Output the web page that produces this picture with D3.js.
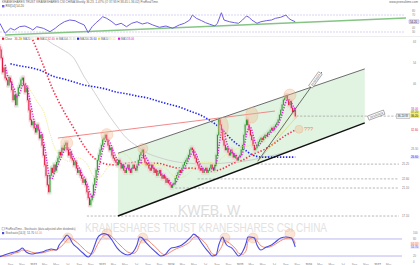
<!DOCTYPE html>
<html>
<head>
<meta charset="utf-8">
<script src="https://cdn.jsdelivr.net/npm/d3@7"></script>
<style>
  body { margin: 0; background: #fff; }
  svg { display: block; font-family: Arial, "Liberation Sans", sans-serif; }
</style>
</head>
<body>
<svg id="chart" width="420" height="265"></svg>
<script>
// ---- data (weekly, first week = 2021-07-09) ----
const firstWeek = new Date(2021, 6, 9);
const firstOpen = 61.0;
const closes = [59.5,56.0,50.4,52.0,48.2,47.5,45.7,48.2,46.8,44.1,
  40.9,42.4,39.4,42.4,44.8,45.7,47.5,48.2,45.7,43.4,
  44.8,40.9,37.9,35.2,33.9,34.7,33.1,32.1,33.9,32.6,
  30.7,31.4,29.1,27.0,25.1,23.2,21.6,20.5,23.2,24.5,
  23.7,25.1,24.1,25.6,26.4,27.6,27.0,28.5,28.1,29.1,
  29.6,28.1,27.0,27.6,26.4,26.0,25.1,25.6,24.5,23.7,
  24.1,23.2,22.7,22.0,22.4,21.6,20.5,19.6,18.6,19.3,
  20.0,21.6,22.7,24.1,26.0,27.0,28.1,29.1,30.3,30.7,
  31.4,30.3,29.1,28.1,28.5,27.0,26.4,26.0,25.6,25.1,
  26.0,25.4,24.5,25.1,24.1,23.7,24.5,25.1,24.1,23.7,
  24.5,25.1,24.5,24.1,25.1,26.0,27.0,27.6,28.1,26.4,
  25.6,25.1,25.4,24.5,24.1,25.1,24.5,23.7,24.1,23.2,
  23.6,24.1,23.2,22.7,23.2,22.7,22.0,22.4,21.9,21.6,
  21.2,21.6,21.9,22.7,23.2,23.7,24.1,23.7,24.5,25.1,
  25.6,26.0,26.4,27.0,28.1,28.5,28.1,27.0,26.4,25.6,
  25.1,24.5,24.1,24.5,23.7,24.1,24.5,23.7,24.1,24.5,
  25.1,24.5,24.1,25.1,27.0,31.4,35.2,33.9,32.6,30.3,
  29.1,28.1,28.5,27.6,27.0,28.1,27.4,26.6,27.0,26.4,
  26.0,26.6,27.0,28.1,29.1,31.4,33.9,35.2,33.9,32.6,
  31.4,30.3,29.1,28.1,28.5,29.1,29.8,30.3,30.7,30.3,
  31.0,31.4,31.2,31.9,32.1,32.6,33.1,32.6,33.4,33.9,
  34.4,35.2,36.5,37.9,39.4,40.9,41.5,42.1,40.9,39.4,
  40.3,38.5,37.4,37.9,36.2];

// long moving averages, every 8 weeks
const maWeeks = [0,8,16,24,32,40,48,56,64,72,80,88,96,104,112,120,128,136,144,152,160,168,176,184,192,200,208,216,224];
const ma52 = [null,null,null,65.6,54.3,44.4,37.9,33.1,28.9,26.3,25.3,25.1,25.4,25.6,25.4,25.4,24.9,24.5,24.5,24.3,23.9,24.3,25.3,26.0,27.2,28.1,29.5,31.2,32.6];
const ma104 = [null,null,null,null,66.0,62.3,59.5,56.0,48.6,43.1,37.9,33.9,30.7,28.9,27.4,26.6,26.0,25.6,25.4,25.3,25.3,25.4,25.6,25.8,26.1,26.6,27.0,27.6,28.3];
const ma200 = [null,53.6,52.7,52.0,50.8,48.9,47.9,46.8,45.7,45.1,44.4,43.4,42.8,42.1,41.5,40.5,39.6,38.8,37.6,36.5,34.9,32.9,30.3,28.5,27.0,26.6,26.6,26.6,26.6];

// RSI panel
const rsiWeeks = [0,4,8,11,15,19,23,25,28,33,38,42,45,49,53,57,60,64,67,70,
  73,76,78,81,85,88,92,96,100,104,108,112,116,121,126,131,136,140,144,146,
  149,153,156,159,163,165,168,170,174,178,181,184,187,189,191,195,198,202,206,209,
  213,217,219,221,224];
const rsiValues = [50.5,27,38.7,34.7,42.5,44.1,38.7,34.7,42.5,38.7,
  30.7,38.7,46.5,54.2,58.2,56.6,51.9,46.5,28.4,42.5,
  51.9,59.9,66,62.2,54.2,46.5,50.5,42.5,50.5,54.2,
  48.8,51.9,46.5,41.1,44.1,38.7,46.5,50.5,58.2,70,
  62.2,56.6,51.9,48.5,44.1,50.5,75.4,58.2,54.2,51.9,
  50.5,58.2,67.6,64.6,58.2,50.5,54.2,56.6,58.2,62.2,
  64.6,70,62.2,58.2,54.2];
const rsiTrendWeeks = [4, 308];
const rsiTrendValues = [22.9, 62.9];

// Stochastic panel
const stochWeeks = [0,2,8,11,15,17,20,24,28,32,36,39,43,45,48,51,53,55,59,63,
  67,70,72,74,77,79,82,85,89,93,97,101,104,106,108,111,115,119,122,125,
  127,130,134,138,141,145,147,150,153,157,159,161,164,166,169,170,172,176,179,181,
  184,187,188,190,193,195,198,202,206,209,213,217,221,223,224];
const stochK = [17.5,21,30.5,34,41,48,34,27,30.5,34,
  41,44.7,41,58.8,76.5,94,83.5,65.9,48,30.5,
  16.4,34,58.8,83.5,97,99,94,76.5,48,30.5,
  23.5,34,58.8,87,83.5,65.9,48,30.5,20,23.5,
  34,48,51.7,58.8,69.4,87,97,87,65.9,41,
  30.5,20,23.5,58.8,87,76.5,58.8,48,30.5,20,
  34,69.4,87,87,83.5,58.8,41,51.7,58.8,69.4,
  83.5,87,83.5,65.9,51.7];
const stochD = [20,19,24,30,35,41,40,34,30,31,
  36,40,42,48,60,77,85,80,66,48,
  32,27,40,60,82,93,96,88,68,50,
  34,29,39,62,77,78,64,47,32,25,
  27,36,46,53,60,74,86,88,78,58,
  42,28,24,36,62,76,72,58,44,30,
  26,42,70,82,86,74,56,50,54,62,
  74,82,84,76,64];

// drawn objects
const channelDates = [new Date(2023, 2, 28), new Date(2026, 9, 28)];
const channelUpper = [27.4, 51.6];
const channelLower = [17.1, 34.4];
const resistDates = [new Date(2022, 4, 13), new Date(2025, 6, 8)];
const resistPrices = [30.7, 37.6];
const steepDates = [new Date(2025, 3, 8), new Date(2026, 2, 14)];
const steepPrices = [25.8, 50.4];
const fanDates = [new Date(2025, 3, 8), new Date(2025, 10, 7)];
const fanPrices = [25.8, 36.4];
const supportPrices = [25.25, 22.6, 21.1, 17.1];
const supportFromWeek = [195, 150, 133, 66];
const markDates = [new Date(2022, 5, 29), new Date(2023, 0, 28), new Date(2023, 7, 7), new Date(2024, 9, 7), new Date(2025, 2, 8), new Date(2025, 8, 26), new Date(2025, 10, 13)];
const markPrices = [29.6, 31.5, 28.4, 33.4, 36.5, 42.4, 32.8];
const markRx = [6, 6, 5, 5, 6, 6, 4];
const markRy = [6, 6, 5, 10, 8, 6, 4];
const stochMarkDates = [new Date(2022, 6, 5), new Date(2023, 0, 28), new Date(2023, 7, 7), new Date(2024, 9, 16), new Date(2025, 2, 14), new Date(2025, 8, 26)];
const stochMarkValues = [83.5, 98, 83.5, 83.5, 83.5, 98];
const priceTicks = [46, 54, 63];
const rsiTicks = [30, 40, 50, 60, 70, 80];

// ---- scales ----
const svg = d3.select("#chart");
const plotR = 399;
const wk = (i) => d3.timeWeek.offset(firstWeek, i);
const x = d3.scaleTime().domain([new Date(2022, 0, 1), new Date(2027, 0, 1)]).range([33, 377]);
const y = d3.scaleLog().domain([16.35, 64.1]).range([222, 40]);
const yRsi = d3.scaleLinear().domain([30, 70]).range([32, 15]);
const yStoch = d3.scaleLinear().domain([0, 100]).range([261.7, 233.3]);

function sma(n) {
  return closes.map((c, i) => (i < n - 1 ? null : d3.mean(closes.slice(i - n + 1, i + 1))));
}
const ma5 = sma(5);
const ma20 = sma(20);
const last = closes.length - 1;

const defs = svg.append("defs");
defs.append("clipPath").attr("id", "clipMain").append("rect").attr("x", 0).attr("y", 39).attr("width", plotR).attr("height", 184);
defs.append("clipPath").attr("id", "clipRsi").append("rect").attr("x", 0).attr("y", 5).attr("width", 412).attr("height", 31);
defs.append("clipPath").attr("id", "clipStoch").append("rect").attr("x", 0).attr("y", 226).attr("width", plotR).attr("height", 37);

// ---- header ----
svg.append("text").attr("x", 2).attr("y", 3.4).attr("font-size", 3).attr("fill", "#666")
  .text("KRANESHARES TRUST KRANESHARES CSI CHINA Weekly 36.23 -1.47% (O 37.93 H 38.45 L 36.02) ProRealTime");
svg.append("text").attr("x", 418).attr("y", 3.4).attr("font-size", 3).attr("fill", "#666")
  .attr("text-anchor", "end").text("www.prorealtime.com");

// ---- RSI panel ----
const gRsi = svg.append("g");
gRsi.append("line").attr("x1", 0).attr("x2", 420).attr("y1", 36.5).attr("y2", 36.5).attr("stroke", "#e2e2e2").attr("stroke-width", 0.6);
[30, 70].forEach((v) => {
  gRsi.append("line").attr("x1", 0).attr("x2", 405).attr("y1", yRsi(v)).attr("y2", yRsi(v))
    .attr("stroke", "#c9c3f1").attr("stroke-width", 0.7).attr("stroke-dasharray", "2,1");
});
const gRsiC = gRsi.append("g").attr("clip-path", "url(#clipRsi)");
gRsiC.append("path")
  .attr("d", d3.line().x((d) => x(wk(d[0]))).y((d) => yRsi(d[1]))(d3.zip(rsiTrendWeeks, rsiTrendValues)))
  .attr("stroke", "#86c486").attr("stroke-width", 1.6).attr("fill", "none");
gRsiC.append("path")
  .attr("d", d3.line().x((d) => x(wk(d[0]))).y((d) => yRsi(d[1]))(d3.zip(rsiWeeks, rsiValues)))
  .attr("stroke", "#6f5fe3").attr("stroke-width", 1).attr("fill", "none");
const rsiLast = rsiValues[rsiValues.length - 1];
// skip tick labels hidden under the value box
rsiTicks.filter((v) => Math.abs(yRsi(v) - yRsi(rsiLast)) > 3.5).forEach((v) => {
  gRsi.append("text").attr("x", 412).attr("y", yRsi(v) + 1).attr("font-size", 2.8).attr("fill", "#888").text(v);
});
gRsi.append("rect").attr("x", 409).attr("y", yRsi(rsiLast) - 1.8).attr("width", 10).attr("height", 3.6)
  .attr("fill", "#e4e0fb").attr("stroke", "#6f5fe3").attr("stroke-width", 0.3);
gRsi.append("text").attr("x", 410).attr("y", yRsi(rsiLast) + 1).attr("font-size", 2.8).attr("fill", "#333")
  .text(rsiLast.toFixed(2));
gRsi.append("rect").attr("x", 2).attr("y", 5).attr("width", 2.4).attr("height", 2.4).attr("fill", "#6f5fe3");
gRsi.append("text").attr("x", 5.5).attr("y", 7.2).attr("font-size", 3).attr("fill", "#555").text("RSI[14] " + rsiLast.toFixed(2));

// ---- legend row of the price panel ----
const legend = [
  ["Close", closes[last], "#e3173e"],
  ["MA20", ma20[last], "#e9d84a"],
  ["MA52", ma52[ma52.length - 1], "#ff2a4a"],
  ["MA104", ma104[ma104.length - 1], "#bdbdbd"],
  ["MA200", ma200[ma200.length - 1], "#2424f0"],
  ["MA10", d3.mean(closes.slice(-10)), "#e9d84a"],
  ["MA5", ma5[last], "#de20de"],
];
const legendX = [2, 20, 37, 56, 77, 98, 118];
legend.forEach((l, i) => {
  svg.append("rect").attr("x", legendX[i]).attr("y", 37.6).attr("width", 2.2).attr("height", 2.2).attr("fill", l[2]);
  svg.append("text").attr("x", legendX[i] + 3).attr("y", 39.7).attr("font-size", 2.8).attr("fill", "#666").text(l[0] + " ");
  svg.append("text").attr("x", legendX[i] + 3 + l[0].length * 1.7 + 1).attr("y", 39.7).attr("font-size", 2.8).attr("fill", l[2]).text(l[1].toFixed(2));
});

// ---- main price panel ----
const gMain = svg.append("g").attr("clip-path", "url(#clipMain)");

// channel fill
const pt = (d, p) => [x(d), y(p)];
gMain.append("path")
  .attr("d", d3.line()([pt(channelDates[0], channelUpper[0]), pt(channelDates[1], channelUpper[1]), pt(channelDates[1], channelLower[1]), pt(channelDates[0], channelLower[0])]) + "Z")
  .attr("fill", "#dcf1dc").attr("fill-opacity", 0.85);

// watermark
svg.append("text").attr("x", 209).attr("y", 215).attr("text-anchor", "middle").attr("font-size", 14)
  .attr("fill", "#dedede").text("KWEB, W");
svg.append("text").attr("x", 85).attr("y", 232).attr("font-size", 13.5).attr("fill", "#e2e2e2")
  .attr("textLength", 242).attr("lengthAdjust", "spacingAndGlyphs").text("KRANESHARES TRUST KRANESHARES CSI CHINA");

// support levels (dashed)
supportPrices.forEach((p, i) => {
  gMain.append("line").attr("x1", x(wk(supportFromWeek[i]))).attr("x2", plotR + 2).attr("y1", y(p)).attr("y2", y(p))
    .attr("stroke", "#9a9a9a").attr("stroke-width", 0.7).attr("stroke-dasharray", "2.2,1.6");
  svg.append("text").attr("x", 402).attr("y", y(p) + 1).attr("font-size", 2.8).attr("fill", "#777").text(p.toFixed(2));
});
// last price line
gMain.append("line").attr("x1", x(wk(last)) + 1).attr("x2", 396).attr("y1", y(closes[last])).attr("y2", y(closes[last]))
  .attr("stroke", "#9a9a9a").attr("stroke-width", 0.7).attr("stroke-dasharray", "2.2,1.6");

// resistance line
gMain.append("path").attr("d", d3.line()([pt(resistDates[0], resistPrices[0]), pt(resistDates[1], resistPrices[1])]))
  .attr("stroke", "#f08a8a").attr("stroke-width", 1).attr("fill", "none");

// long moving averages
const maLine = d3.line().defined((d) => d[1] != null).x((d) => x(wk(d[0]))).y((d) => y(d[1])).curve(d3.curveMonotoneX);
gMain.append("path").attr("d", maLine(d3.zip(maWeeks, ma104))).attr("stroke", "#c6c6c6").attr("stroke-width", 0.8).attr("fill", "none");
gMain.append("path").attr("d", maLine(d3.zip(maWeeks, ma200))).attr("stroke", "#2424f0").attr("stroke-width", 1.6)
  .attr("stroke-dasharray", "1.4,1.6").attr("fill", "none");
gMain.append("path").attr("d", maLine(d3.zip(maWeeks, ma52))).attr("stroke", "#ff2a4a").attr("stroke-width", 1.6)
  .attr("stroke-dasharray", "1.4,1.8").attr("fill", "none");

// candles
const candles = closes.map((c, i) => ({ d: wk(i), o: i ? closes[i - 1] : firstOpen, c }));
gMain.selectAll("rect.halo").data(candles).join("rect").attr("class", "halo")
  .attr("x", (d) => x(d.d) - 1.6).attr("width", 3.2)
  .attr("y", (d) => y(Math.max(d.o, d.c)) - 2.5)
  .attr("height", (d) => Math.abs(y(d.o) - y(d.c)) + 5)
  .attr("fill", (d) => (d.c >= d.o ? "#cfe8cf" : "#f5d0d8")).attr("opacity", 0.8);
gMain.selectAll("rect.body").data(candles).join("rect").attr("class", "body")
  .attr("x", (d) => x(d.d) - 0.55).attr("width", 1.1)
  .attr("y", (d) => y(Math.max(d.o, d.c)) - 0.4)
  .attr("height", (d) => Math.max(1, Math.abs(y(d.o) - y(d.c)) + 0.8))
  .attr("fill", (d) => (d.c >= d.o ? "#2f9a2f" : "#e0183f"));

// short moving averages
const shortLine = d3.line().defined((d) => d[1] != null).x((d) => x(wk(d[0]))).y((d) => y(d[1]));
gMain.append("path").attr("d", shortLine(ma20.map((v, i) => [i, v]))).attr("stroke", "#e7e46a").attr("stroke-width", 0.8)
  .attr("stroke-dasharray", "1,1").attr("fill", "none");
gMain.append("path").attr("d", shortLine(ma5.map((v, i) => [i, v]))).attr("stroke", "#dc1fdc").attr("stroke-width", 1.5)
  .attr("stroke-dasharray", "1.2,1.4").attr("fill", "none");

// channel borders, steep trend line, fan
gMain.append("path").attr("d", d3.line()([pt(channelDates[0], channelUpper[0]), pt(channelDates[1], channelUpper[1])]))
  .attr("stroke", "#6c6c6c").attr("stroke-width", 1).attr("fill", "none");
gMain.append("path").attr("d", d3.line()([pt(channelDates[0], channelLower[0]), pt(channelDates[1], channelLower[1])]))
  .attr("stroke", "#111").attr("stroke-width", 1.4).attr("fill", "none");
gMain.append("path").attr("d", d3.line()([pt(fanDates[0], fanPrices[0]), pt(fanDates[1], fanPrices[1])]))
  .attr("stroke", "#d9d24a").attr("stroke-width", 0.6).attr("fill", "none");
gMain.append("path").attr("d", d3.line()([pt(steepDates[0], steepPrices[0]), pt(steepDates[1], steepPrices[1])]))
  .attr("stroke", "#333").attr("stroke-width", 0.7).attr("fill", "none");

// highlight circles
markDates.forEach((d, i) => {
  gMain.append("ellipse").attr("cx", x(d)).attr("cy", y(markPrices[i])).attr("rx", markRx[i]).attr("ry", markRy[i])
    .attr("fill", "#f4b48c").attr("fill-opacity", 0.35).attr("stroke", "#f0a070").attr("stroke-opacity", 0.5).attr("stroke-width", 0.6);
});
svg.append("text").attr("x", x(markDates[6]) + 5).attr("y", y(markPrices[6]) + 2).attr("font-size", 5.5)
  .attr("fill", "#f08a50").text("???");

// slanted tags
function tag(cx, cy, angle, text) {
  const g = svg.append("g").attr("transform", `translate(${cx},${cy}) rotate(${angle})`);
  g.append("rect").attr("x", -8.5).attr("y", -2.2).attr("width", 17).attr("height", 4.4)
    .attr("fill", "#fff").attr("stroke", "#666").attr("stroke-width", 0.5);
  g.append("text").attr("text-anchor", "middle").attr("y", 1).attr("font-size", 2.8).attr("fill", "#444").text(text);
}
const s0 = pt(steepDates[0], steepPrices[0]), s1 = pt(steepDates[1], steepPrices[1]);
const steepAngle = (Math.atan2(s1[1] - s0[1], s1[0] - s0[0]) * 180) / Math.PI;
tag(s0[0] + 0.9 * (s1[0] - s0[0]), s0[1] + 0.9 * (s1[1] - s0[1]) - 1, steepAngle, "14/03/2026");
const c0 = pt(channelDates[0], channelLower[0]), c1 = pt(channelDates[1], channelLower[1]);
const chanAngle = (Math.atan2(c1[1] - c0[1], c1[0] - c0[0]) * 180) / Math.PI;
tag(x(wk(last)) + 81, y(closes[last]) - 1, chanAngle, "28/10/2026");

// right-side price labels
svg.append("rect").attr("x", 396.5).attr("y", y(closes[last]) - 2.2).attr("width", 13.5).attr("height", 4.4)
  .attr("fill", "#f1f1f1").attr("stroke", "#888").attr("stroke-width", 0.4);
svg.append("text").attr("x", 397.5).attr("y", y(closes[last]) + 1).attr("font-size", 2.8).attr("fill", "#333")
  .text(closes[last].toFixed(2) + " W");
const sideLabels = [
  [ma5[last], "#de20de", "#fff"],
  [ma20[last], "#7a6a00", "#f3ea70"],
  [closes[last], "#222", "#f6e34a"],
  [ma52[ma52.length - 1], "#e3173e", "#fff"],
  [ma104[ma104.length - 1], "#888", "#fff"],
  [ma200[ma200.length - 1], "#2424f0", "#e6e6ff"],
];
sideLabels.forEach((s) => {
  svg.append("rect").attr("x", 410.5).attr("y", y(s[0]) - 1.7).attr("width", 9).attr("height", 3.4).attr("fill", s[2]);
  svg.append("text").attr("x", 411).attr("y", y(s[0]) + 1).attr("font-size", 2.8).attr("fill", s[1]).text(s[0].toFixed(2));
});
priceTicks.forEach((p) => {
  svg.append("text").attr("x", 413).attr("y", y(p) + 1).attr("font-size", 2.8).attr("fill", "#888").text(p);
});

// ---- stochastic panel ----
const gSt = svg.append("g");
[20, 80].forEach((v) => {
  gSt.append("line").attr("x1", 0).attr("x2", 402).attr("y1", yStoch(v)).attr("y2", yStoch(v))
    .attr("stroke", "#a7a3ee").attr("stroke-width", 0.8);
});
const gStC = gSt.append("g").attr("clip-path", "url(#clipStoch)");
stochMarkDates.forEach((d, i) => {
  gStC.append("circle").attr("cx", x(d)).attr("cy", yStoch(stochMarkValues[i])).attr("r", 5)
    .attr("fill", "#f4b48c").attr("fill-opacity", 0.35).attr("stroke", "#f0a070").attr("stroke-opacity", 0.5).attr("stroke-width", 0.6);
});
const stLine = d3.line().x((d) => x(wk(d[0]))).y((d) => yStoch(d[1])).curve(d3.curveMonotoneX);
gStC.append("path").attr("d", stLine(d3.zip(stochWeeks, stochD))).attr("stroke", "#f08872").attr("stroke-width", 1).attr("fill", "none");
gStC.append("path").attr("d", stLine(d3.zip(stochWeeks, stochK))).attr("stroke", "#4b4be3").attr("stroke-width", 1.1).attr("fill", "none");
gSt.append("rect").attr("x", 2).attr("y", 227.8).attr("width", 2.2).attr("height", 2.2).attr("fill", "none").attr("stroke", "#777").attr("stroke-width", 0.3);
gSt.append("text").attr("x", 5.5).attr("y", 230).attr("font-size", 2.8).attr("fill", "#666")
  .text("ProRealTime - Stochastic (data adjusted after dividends)");
gSt.append("rect").attr("x", 2).attr("y", 232).attr("width", 2.2).attr("height", 2.2).attr("fill", "#4b4be3");
gSt.append("text").attr("x", 5.5).attr("y", 234.2).attr("font-size", 2.8).attr("fill", "#666").text("Stochastic[14,3]");
gSt.append("text").attr("x", 27).attr("y", 234.2).attr("font-size", 2.8).attr("fill", "#4b4be3").text(stochK[stochK.length - 1].toFixed(2));
gSt.append("text").attr("x", 35).attr("y", 234.2).attr("font-size", 2.8).attr("fill", "#f08872").text(stochD[stochD.length - 1].toFixed(2));
[0, 20, 80, 100].forEach((v) => {
  gSt.append("text").attr("x", 413).attr("y", yStoch(v) + 1).attr("font-size", 2.8).attr("fill", "#888").text(v);
});
[[stochD[stochD.length - 1], "#f08872", "#fde3dc"], [stochK[stochK.length - 1], "#4b4be3", "#e6e6ff"]].forEach((s) => {
  gSt.append("rect").attr("x", 410.5).attr("y", yStoch(s[0]) - 1.7).attr("width", 9).attr("height", 3.4).attr("fill", s[2]);
  gSt.append("text").attr("x", 411).attr("y", yStoch(s[0]) + 1).attr("font-size", 2.8).attr("fill", s[1]).text(s[0].toFixed(2));
});

// time axis
const xAxisScale = x.copy().domain([x.invert(0), x.invert(plotR)]).range([0, plotR]);
const xAxis = d3.axisBottom(xAxisScale).ticks(d3.timeMonth.every(2)).tickSize(0)
  .tickFormat((d) => (d.getMonth() === 0 ? d3.timeFormat("%Y")(d) : d3.timeFormat("%b")(d)));
const gx = svg.append("g").attr("transform", "translate(0,261)").call(xAxis);
gx.select(".domain").remove();
gx.selectAll("text").attr("font-size", 3).attr("fill", "#888").attr("dy", "0.5em")
  .attr("font-weight", (d) => (d.getMonth() === 0 ? "bold" : null));
</script>
</body>
</html>
